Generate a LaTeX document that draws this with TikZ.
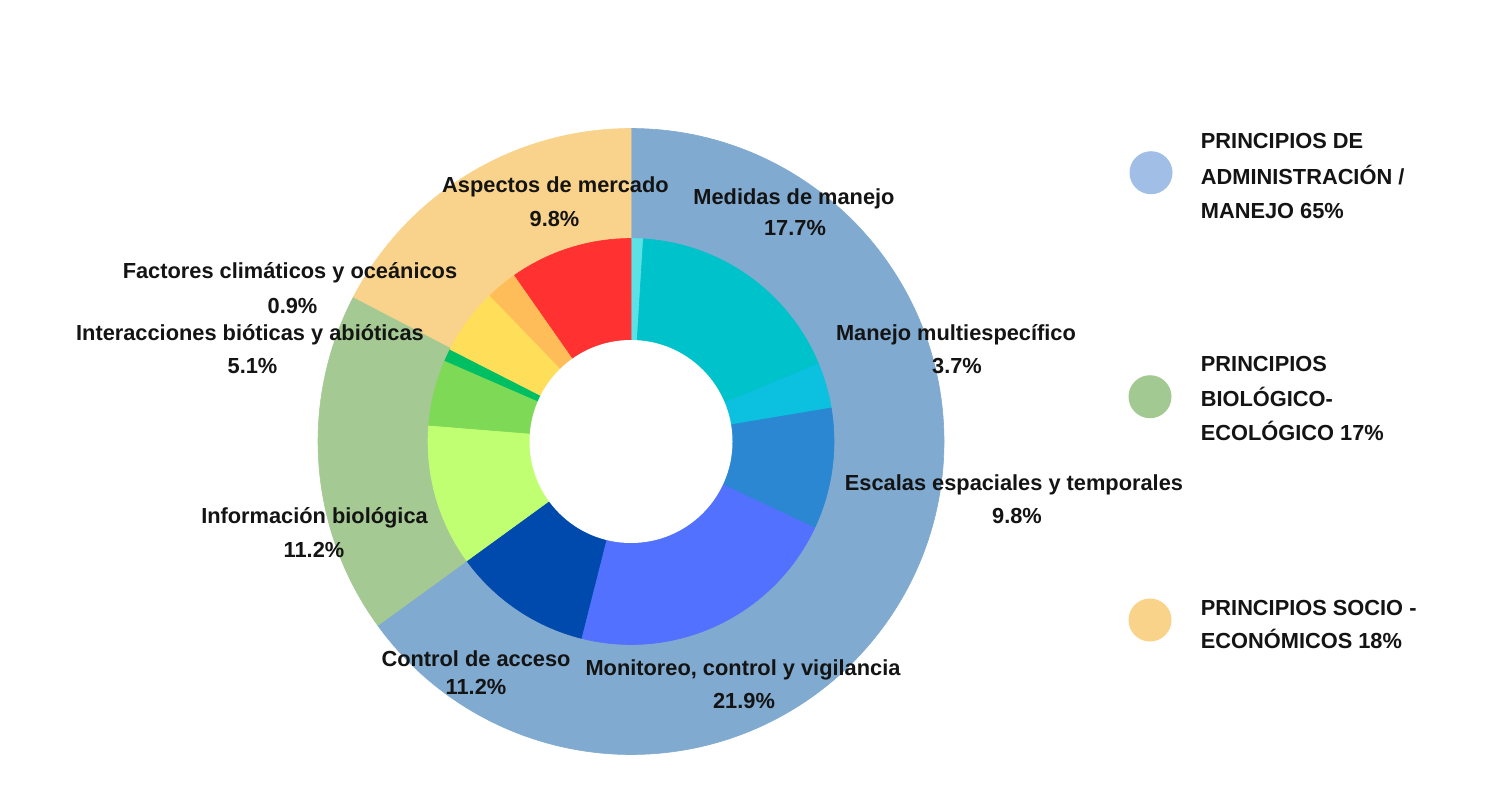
\documentclass[tikz,border=0pt]{standalone}
\usepackage{fontspec}
\setmainfont{Liberation Sans}
\definecolor{txt}{HTML}{141414}
\definecolor{oblue}{HTML}{80AACF}
\definecolor{ogreen}{HTML}{A4C993}
\definecolor{opeach}{HTML}{F9D38B}
\definecolor{lblue}{HTML}{A0BEE6}
\definecolor{lgreen}{HTML}{A3C993}
\definecolor{lpeach}{HTML}{FAD38A}
\definecolor{cLcyan}{HTML}{5CE1E6}
\definecolor{cTeal}{HTML}{00C2CB}
\definecolor{cLblue}{HTML}{0CC0DF}
\definecolor{cBlue}{HTML}{2B87D2}
\definecolor{cBright}{HTML}{5271FF}
\definecolor{cDark}{HTML}{004AAD}
\definecolor{cLgreen}{HTML}{C1FF72}
\definecolor{cGreen}{HTML}{7ED957}
\definecolor{cDgreen}{HTML}{00BF63}
\definecolor{cYellow}{HTML}{FFDE59}
\definecolor{cOrange}{HTML}{FFBD59}
\definecolor{cRed}{HTML}{FF3131}
\newcommand{\pieslice}[4]{%
  \fill[#1, draw=#1, line width=0.6pt, line join=round] (C) -- ++(#2:#4) arc[start angle=#2, end angle=#3, radius=#4] -- cycle;}
\begin{document}
\begin{tikzpicture}[x=1pt,y=-1pt,
  lbl/.style={font=\fontsize{21.8}{26}\selectfont\bfseries, text=txt, inner sep=0pt, anchor=base},
  leg/.style={font=\fontsize{21.8}{26}\selectfont\bfseries, text=txt, inner sep=0pt, anchor=base west},
  dot/.style={circle, minimum size=43pt, inner sep=0pt, draw=none}]
\useasboundingbox (0,0) rectangle (1500,803);
\fill[white] (0,0) rectangle (1500,803);
\coordinate (C) at (631,441.5);
% outer ring
\pieslice{oblue}{-90}{144}{313}
\pieslice{ogreen}{144}{207.5}{313}
\pieslice{opeach}{207.5}{270}{313}
% inner ring
\pieslice{cLcyan}{-90}{-86.5}{203}
\pieslice{cTeal}{-86.5}{-22.5}{203}
\pieslice{cLblue}{-22.5}{-9.5}{203}
\pieslice{cBlue}{-9.5}{25.2}{203}
\pieslice{cBright}{25.2}{104.2}{203}
\pieslice{cDark}{104.2}{144}{203}
\pieslice{cLgreen}{144}{184.6}{203}
\pieslice{cGreen}{184.6}{203.5}{203}
\pieslice{cDgreen}{203.5}{207}{203}
\pieslice{cYellow}{207}{226}{203}
\pieslice{cOrange}{226}{235}{203}
\pieslice{cRed}{235}{270}{203}
% hole
\fill[white] (C) circle[radius=101.5];
% labels
\node[lbl] (asp) at (555.5,192.3) {Aspectos de mercado};
\node[lbl] (aspp) at (554.5,226.5) {9.8\%};
\node[lbl] (med) at (794,204.3) {Medidas de manejo};
\node[lbl] (medp) at (795,235.7) {17.7\%};
\node[lbl] (fac) at (290,278.3) {Factores climáticos y oceánicos};
\node[lbl] (facp) at (292.5,313.3) {0.9\%};
\node[lbl] (int) at (250,340) {Interacciones bióticas y abióticas};
\node[lbl] (intp) at (252.5,373.3) {5.1\%};
\node[lbl] (mmu) at (956,340) {Manejo multiespecífico};
\node[lbl] (mmup) at (957,373.3) {3.7\%};
\node[lbl] (esc) at (1014,490) {Escalas espaciales y temporales};
\node[lbl] (escp) at (1017,523.3) {9.8\%};
\node[lbl] (inf) at (314.5,523) {Información biológica};
\node[lbl] (infp) at (314,557) {11.2\%};
\node[lbl] (con) at (476,666) {Control de acceso};
\node[lbl] (conp) at (476,694) {11.2\%};
\node[lbl] (mon) at (743,675) {Monitoreo, control y vigilancia};
\node[lbl] (monp) at (744,708) {21.9\%};
% legend
\node[dot, fill=lblue] (d1) at (1151,172.7) {};
\node[dot, fill=lgreen] (d2) at (1150,396.7) {};
\node[dot, fill=lpeach] (d3) at (1150,620) {};
\node[leg] (l1a) at (1200.7,148.3) {PRINCIPIOS DE};
\node[leg] (l1b) at (1200.7,184.3) {ADMINISTRACIÓN /};
\node[leg] (l1c) at (1200.7,218.3) {MANEJO 65\%};
\node[leg] (l2a) at (1200.7,371.7) {PRINCIPIOS};
\node[leg] (l2b) at (1200.7,406.7) {BIOLÓGICO-};
\node[leg] (l2c) at (1200.7,440) {ECOLÓGICO 17\%};
\node[leg] (l3a) at (1200.7,615) {PRINCIPIOS SOCIO -};
\node[leg] (l3b) at (1200.7,648.3) {ECONÓMICOS 18\%};
\end{tikzpicture}
\end{document}
